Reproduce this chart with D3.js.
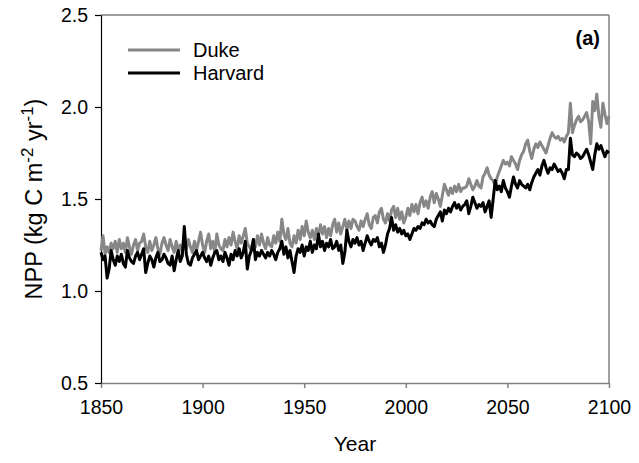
<!DOCTYPE html>
<html>
<head>
<meta charset="utf-8">
<script src="https://cdn.jsdelivr.net/npm/d3@7/dist/d3.min.js"></script>
<style>
  html, body { margin: 0; padding: 0; background: #fff; }
  svg { display: block; font-family: "Liberation Sans", Arial, sans-serif; }
</style>
</head>
<body>
<svg id="chart" width="639" height="463"></svg>
<script>
const startYear = 1850;
const endYear = 2100;
const xTicks = [1850, 1900, 1950, 2000, 2050, 2100];
const yTicks = [0.5, 1.0, 1.5, 2.0, 2.5];
const seriesNames = ["Duke", "Harvard"];

const duke = [
  1.22,1.30,1.20,1.24,1.21,1.26,1.23,1.27,1.21,1.28,
  1.23,1.26,1.21,1.29,1.24,1.20,1.25,1.28,1.22,1.26,
  1.27,1.31,1.24,1.21,1.27,1.22,1.25,1.29,1.23,1.20,
  1.26,1.29,1.25,1.22,1.28,1.24,1.21,1.27,1.22,1.25,
  1.21,1.27,1.23,1.28,1.24,1.21,1.27,1.22,1.27,1.32,
  1.25,1.21,1.27,1.31,1.23,1.27,1.21,1.31,1.25,1.23,
  1.22,1.28,1.24,1.29,1.25,1.32,1.27,1.23,1.30,1.26,
  1.30,1.34,1.26,1.24,1.22,1.28,1.24,1.30,1.25,1.31,
  1.26,1.23,1.29,1.25,1.24,1.30,1.26,1.32,1.27,1.39,
  1.31,1.28,1.34,1.26,1.24,1.30,1.26,1.33,1.28,1.35,
  1.30,1.38,1.32,1.29,1.33,1.28,1.34,1.30,1.36,1.31,
  1.35,1.29,1.34,1.30,1.36,1.39,1.32,1.37,1.31,1.35,
  1.39,1.33,1.38,1.34,1.39,1.38,1.35,1.33,1.38,1.35,
  1.39,1.42,1.36,1.34,1.40,1.41,1.37,1.43,1.45,1.39,
  1.37,1.42,1.38,1.44,1.46,1.40,1.45,1.39,1.43,1.37,
  1.40,1.45,1.41,1.47,1.43,1.47,1.42,1.48,1.51,1.46,
  1.49,1.45,1.51,1.54,1.48,1.53,1.50,1.46,1.52,1.58,
  1.55,1.52,1.56,1.53,1.57,1.54,1.58,1.54,1.56,1.56,
  1.57,1.61,1.58,1.55,1.57,1.60,1.57,1.56,1.62,1.64,
  1.67,1.63,1.61,1.60,1.57,1.62,1.65,1.68,1.71,1.69,
  1.70,1.68,1.73,1.71,1.69,1.66,1.71,1.74,1.76,1.80,
  1.82,1.76,1.72,1.77,1.80,1.78,1.81,1.79,1.77,1.75,
  1.79,1.83,1.86,1.84,1.83,1.84,1.82,1.83,1.81,1.84,
  1.86,2.02,1.86,1.90,1.93,1.95,1.92,1.93,1.95,1.97,
  1.92,1.80,2.03,1.98,2.07,1.95,1.89,2.02,1.96,1.91,
  1.95
];

const harvard = [
  1.21,1.17,1.19,1.07,1.12,1.22,1.17,1.14,1.19,1.16,
  1.20,1.15,1.13,1.22,1.18,1.16,1.15,1.19,1.21,1.17,
  1.20,1.23,1.10,1.15,1.19,1.17,1.13,1.18,1.21,1.16,
  1.17,1.20,1.18,1.15,1.14,1.19,1.11,1.17,1.22,1.16,
  1.19,1.35,1.20,1.15,1.14,1.18,1.20,1.22,1.17,1.19,
  1.21,1.18,1.16,1.19,1.14,1.18,1.21,1.22,1.17,1.19,
  1.16,1.21,1.18,1.14,1.20,1.17,1.22,1.19,1.23,1.18,
  1.21,1.27,1.12,1.19,1.22,1.28,1.17,1.21,1.19,1.22,
  1.20,1.18,1.21,1.19,1.22,1.20,1.17,1.21,1.23,1.27,
  1.20,1.24,1.18,1.22,1.16,1.10,1.19,1.23,1.21,1.25,
  1.19,1.24,1.22,1.27,1.21,1.25,1.23,1.31,1.24,1.27,
  1.22,1.26,1.24,1.28,1.23,1.24,1.27,1.22,1.25,1.15,
  1.21,1.33,1.27,1.24,1.28,1.26,1.29,1.25,1.27,1.22,
  1.26,1.30,1.27,1.25,1.28,1.27,1.29,1.24,1.26,1.21,
  1.25,1.31,1.34,1.40,1.33,1.36,1.32,1.34,1.31,1.33,
  1.30,1.31,1.28,1.31,1.34,1.33,1.35,1.34,1.37,1.36,
  1.39,1.37,1.38,1.36,1.35,1.39,1.41,1.43,1.38,1.44,
  1.42,1.45,1.43,1.46,1.48,1.45,1.47,1.44,1.46,1.47,
  1.49,1.42,1.46,1.51,1.48,1.45,1.47,1.46,1.48,1.43,
  1.46,1.49,1.40,1.50,1.60,1.55,1.57,1.54,1.60,1.56,
  1.54,1.51,1.57,1.62,1.58,1.56,1.60,1.58,1.57,1.56,
  1.58,1.55,1.59,1.62,1.64,1.66,1.63,1.68,1.71,1.67,
  1.64,1.67,1.66,1.69,1.67,1.65,1.66,1.64,1.61,1.66,
  1.66,1.83,1.74,1.73,1.75,1.74,1.72,1.73,1.75,1.77,
  1.74,1.70,1.66,1.74,1.80,1.77,1.79,1.76,1.73,1.76,
  1.75
];

const years = d3.range(startYear, endYear + 1);
const colors = { Duke: "#878787", Harvard: "#000000" };

const svg = d3.select("#chart");
const m = { left: 101, top: 15 };
const pw = 609 - m.left, ph = 383 - m.top;

const x = d3.scaleLinear().domain([startYear, endYear]).range([m.left, m.left + pw]);
const y = d3.scaleLinear().domain([0.5, 2.5]).range([m.top + ph, m.top]);

const frameColor = "#808080";
const font = "Liberation Sans, Arial, sans-serif";

// frame: top & right
svg.append("line").attr("x1", x(startYear)).attr("x2", x(endYear)).attr("y1", y(2.5)).attr("y2", y(2.5))
  .attr("stroke", "#404040").attr("stroke-width", 1.2);
svg.append("line").attr("x1", x(endYear)).attr("x2", x(endYear)).attr("y1", y(2.5)).attr("y2", y(0.5))
  .attr("stroke", frameColor).attr("stroke-width", 1.5);

// x axis
const xAxis = svg.append("g").attr("transform", `translate(0,${y(0.5)})`)
  .call(d3.axisBottom(x).tickValues(xTicks).tickFormat(d3.format("d")).tickSize(5).tickSizeOuter(0).tickPadding(12));
xAxis.select(".domain").attr("stroke", frameColor).attr("stroke-width", 1.5);
xAxis.selectAll(".tick line").attr("stroke", frameColor).attr("stroke-width", 1.5);
xAxis.selectAll("text").attr("font-size", 19.5).attr("fill", "#000").attr("font-family", font);

// y axis
const yAxis = svg.append("g").attr("transform", `translate(${x(startYear)},0)`)
  .call(d3.axisLeft(y).tickValues(yTicks).tickFormat(d3.format(".1f")).tickSize(6).tickSizeOuter(0).tickPadding(7));
yAxis.select(".domain").attr("stroke", "#000").attr("stroke-width", 1.2);
yAxis.selectAll(".tick line").attr("stroke", "#000").attr("stroke-width", 1.2);
yAxis.selectAll("text").attr("font-size", 19.5).attr("fill", "#000").attr("font-family", font);

// lines
const line = d3.line().x((d, i) => x(years[i])).y(d => y(d)).curve(d3.curveLinear);
svg.append("path").datum(duke).attr("d", line).attr("fill", "none")
  .attr("stroke", colors.Duke).attr("stroke-width", 3).attr("stroke-linejoin", "round");
svg.append("path").datum(harvard).attr("d", line).attr("fill", "none")
  .attr("stroke", colors.Harvard).attr("stroke-width", 3).attr("stroke-linejoin", "round");

// legend
const leg = svg.append("g");
seriesNames.forEach((name, i) => {
  const ly = 50 + i * 23;
  leg.append("line").attr("x1", 128).attr("x2", 180).attr("y1", ly).attr("y2", ly)
    .attr("stroke", colors[name]).attr("stroke-width", 3);
  leg.append("text").attr("x", 193).attr("y", ly + 7).attr("font-size", 20).text(name);
});

// panel label
svg.append("text").attr("x", 600).attr("y", 45).attr("text-anchor", "end")
  .attr("font-size", 20).attr("font-weight", "bold").text("(a)");

// axis titles
svg.append("text").attr("x", 355).attr("y", 451).attr("text-anchor", "middle")
  .attr("font-size", 21).text("Year");

const yt = svg.append("text").attr("transform", `translate(42,${199}) rotate(-90)`)
  .attr("text-anchor", "middle").attr("font-size", 23.5);
yt.append("tspan").text("NPP (kg C m");
yt.append("tspan").attr("font-size", 17).attr("dy", -9).text("-2");
yt.append("tspan").attr("dy", 9).text(" yr");
yt.append("tspan").attr("font-size", 17).attr("dy", -9).text("-1");
yt.append("tspan").attr("dy", 9).text(")");
</script>
</body>
</html>
